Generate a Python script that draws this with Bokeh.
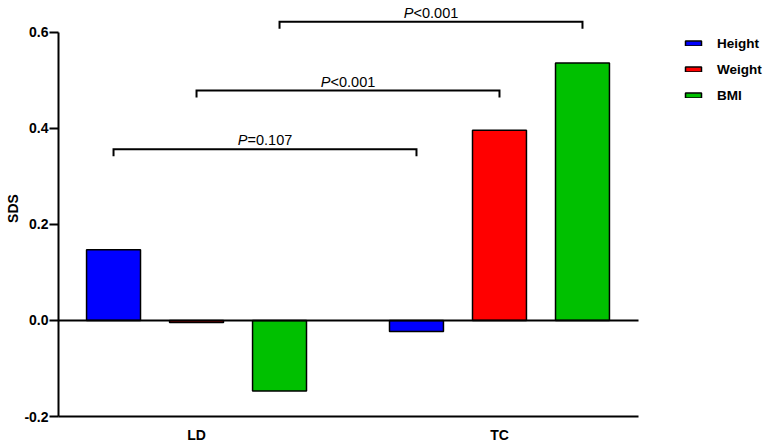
from bokeh.plotting import figure
from bokeh.models import (ColumnDataSource, Range1d, FixedTicker, Legend,
                          LegendItem, NumeralTickFormatter)
from bokeh.core.properties import value
from bokeh.embed import file_html
from bokeh.resources import INLINE

# ---- data ----
groups = ["LD", "TC"]
series = ["Height", "Weight", "BMI"]
ld_values = [0.147, -0.004, -0.147]
tc_values = [-0.023, 0.396, 0.536]
y_ticks = [-0.2, 0.0, 0.2, 0.4, 0.6]
p_texts = ["=0.107", "<0.001", "<0.001"]
bracket_levels = [0.3565, 0.4788, 0.6218]

# ---- style / layout ----
colors = ["#0000FF", "#FF0000", "#00C000"]
FONT = "Liberation Sans"
group_pos = [0.0, 3.65]
offsets = [-1.0, 0.0, 1.0]
bar_width = 0.65
x_start, x_axis_end, x_end = -1.663, 5.325, 6.855
y_start, y_end = -0.2, 0.6663
drop = 0.0145

p = figure(width=765, height=445, output_backend="svg", toolbar_location=None,
           x_range=Range1d(x_start, x_end), y_range=Range1d(y_start, y_end),
           min_border_left=58, min_border_right=0, min_border_top=0,
           min_border_bottom=27)
p.outline_line_color = None
p.grid.visible = False
p.background_fill_color = "white"
p.border_fill_color = "white"

renderers = []
values_by_group = [ld_values, tc_values]
for i, s in enumerate(series):
    src = ColumnDataSource(dict(
        x=[g + offsets[i] for g in group_pos],
        top=[values_by_group[k][i] for k in range(len(groups))]))
    r = p.vbar(x="x", top="top", bottom=0, width=bar_width, source=src,
               fill_color=colors[i], line_color="black", line_width=1.5)
    renderers.append(r)

# zero line
p.segment(x0=[x_start], y0=[0], x1=[x_axis_end], y1=[0],
          line_color="black", line_width=2)

# brackets and p-values
for j in range(len(series)):
    x0 = group_pos[0] + offsets[j]
    x1 = group_pos[1] + offsets[j]
    y = bracket_levels[j]
    p.multi_line(xs=[[x0, x0, x1, x1]], ys=[[y - drop, y, y, y - drop]],
                 line_color="black", line_width=2, line_join="miter")
    mid = (x0 + x1) / 2
    p.text(x=[mid], y=[y], text=["P"], x_offset=-27.2, y_offset=-9,
           text_align="left", text_baseline="alphabetic",
           text_font=value(FONT), text_font_style="italic",
           text_font_size="14.5px", text_color="black")
    p.text(x=[mid], y=[y], text=[p_texts[j]], x_offset=-17.5, y_offset=-9,
           text_align="left", text_baseline="alphabetic",
           text_font=value(FONT), text_font_style="normal",
           text_font_size="14.5px", text_color="black")

# axes
yax = p.yaxis[0]
yax.ticker = FixedTicker(ticks=y_ticks)
yax.formatter = NumeralTickFormatter(format="0.0")
yax.bounds = (-0.2, 0.6)
yax.axis_line_width = 2
yax.major_tick_line_width = 2
yax.major_tick_out = 9
yax.major_tick_in = 0
yax.minor_tick_out = 0
yax.minor_tick_in = 0
yax.major_label_standoff = 1
yax.major_label_text_font = FONT
yax.major_label_text_font_style = "bold"
yax.major_label_text_font_size = "14px"
yax.major_label_text_color = "black"
yax.axis_label = "SDS"
yax.axis_label_standoff = 0
yax.axis_label_text_font = FONT
yax.axis_label_text_font_style = "bold"
yax.axis_label_text_font_size = "14px"
yax.axis_label_text_color = "black"

xax = p.xaxis[0]
xax.ticker = FixedTicker(ticks=group_pos)
xax.major_label_overrides = {group_pos[k]: groups[k] for k in range(len(groups))}
xax.bounds = (x_start, x_axis_end)
xax.axis_line_width = 2
xax.major_tick_out = 0
xax.major_tick_in = 0
xax.minor_tick_out = 0
xax.minor_tick_in = 0
xax.major_label_standoff = 10
xax.major_label_text_font = FONT
xax.major_label_text_font_style = "bold"
xax.major_label_text_font_size = "14px"
xax.major_label_text_color = "black"

legend = Legend(items=[LegendItem(label=s, renderers=[renderers[i]])
                       for i, s in enumerate(series)],
                location=(620, 306), padding=5, margin=0, spacing=6,
                glyph_width=20, glyph_height=6, label_height=20,
                label_standoff=14, label_text_font=FONT,
                label_text_font_style="bold", label_text_font_size="13.5px",
                label_text_color="black",
                border_line_alpha=0, background_fill_alpha=0)
p.add_layout(legend)

open("out.html", "w").write(file_html(p, INLINE))
